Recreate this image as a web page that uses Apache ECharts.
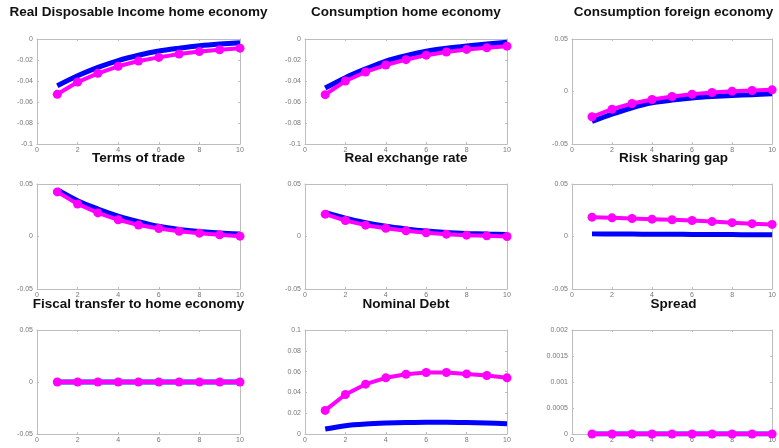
<!DOCTYPE html>
<html>
<head>
<meta charset="utf-8">
<script src="https://cdn.jsdelivr.net/npm/echarts@6/dist/echarts.min.js"></script>
<style>html,body{margin:0;padding:0;background:#fff}#c{width:779px;height:448px}</style>
</head>
<body>
<div id="c"></div>
<script>
var periods = [1,2,3,4,5,6,7,8,9,10];
var xTicks = [0,2,4,6,8,10];
var titles = ["Real Disposable Income home economy","Consumption home economy","Consumption foreign economy",
  "Terms of trade","Real exchange rate","Risk sharing gap",
  "Fiscal transfer to home economy","Nominal Debt","Spread"];
// blue (no markers) series
var rdiBlue   = [-0.0445,-0.035,-0.027,-0.0205,-0.0155,-0.0115,-0.0088,-0.0065,-0.0048,-0.0035];
var consHBlue = [-0.0467,-0.0368,-0.0285,-0.021,-0.0158,-0.0117,-0.0088,-0.0066,-0.0048,-0.0032];
var consFBlue = [-0.0286,-0.0216,-0.0155,-0.0108,-0.0082,-0.0062,-0.0048,-0.0038,-0.003,-0.0022];
var totBlue   = [0.0445,0.034,0.0262,0.0195,0.0142,0.0097,0.0068,0.0048,0.0034,0.0025];
var rerBlue   = [0.023,0.0175,0.0132,0.0097,0.0072,0.0052,0.0038,0.0029,0.0023,0.0019];
var rsgBlue   = [0.0025,0.0024,0.0023,0.0022,0.0021,0.002,0.0019,0.0018,0.0017,0.0016];
var fiscBlue  = [0,0,0,0,0,0,0,0,0,0];
var debtBlue  = [0.0048,0.008,0.0096,0.0105,0.011,0.0113,0.0113,0.011,0.0105,0.0099];
var sprBlue   = [0,0,0,0,0,0,0,0,0,0];
// magenta (marker) series
var rdiMag    = [-0.0527,-0.041,-0.0327,-0.026,-0.021,-0.0175,-0.0143,-0.012,-0.0102,-0.0087];
var consHMag  = [-0.053,-0.040,-0.0314,-0.0248,-0.0197,-0.0154,-0.0124,-0.0099,-0.0083,-0.0068];
var consFMag  = [-0.0241,-0.0168,-0.0114,-0.0076,-0.0048,-0.0025,-0.001,0.0003,0.001,0.0016];
var totMag    = [0.0425,0.031,0.0225,0.0159,0.011,0.0076,0.005,0.0032,0.0016,0.0003];
var rerMag    = [0.0213,0.0152,0.0108,0.0079,0.0054,0.0035,0.0022,0.0013,0.0006,0.0];
var rsgMag    = [0.0184,0.0178,0.0171,0.0165,0.0159,0.0152,0.0142,0.0132,0.0122,0.0115];
var fiscMag   = [0,0,0,0,0,0,0,0,0,0];
var debtMag   = [0.0227,0.038,0.0479,0.054,0.0575,0.0591,0.0591,0.0578,0.0562,0.054];
var sprMag    = [0,0,0,0,0,0,0,0,0,0];
// y axis tick ranges
var yMins = [-0.1,-0.1,-0.05,-0.05,-0.05,-0.05,-0.05,0,0];
var yMaxs = [0,0,0.05,0.05,0.05,0.05,0.05,0.1,0.002];
var ySteps = [0.02,0.02,0.05,0.05,0.05,0.05,0.05,0.02,0.0005];

var blues = [rdiBlue,consHBlue,consFBlue,totBlue,rerBlue,rsgBlue,fiscBlue,debtBlue,sprBlue];
var mags  = [rdiMag,consHMag,consFMag,totMag,rerMag,rsgMag,fiscMag,debtMag,sprMag];

var colLeft = [37,305,572], colW = [203,202,203];
var rowTop = [39,184,330], rowH = [105,105,104];
var titleY = [12,158,304];

var grids=[], xAxes=[], yAxes=[], series=[], graphics=[];
var frame = '#bdbdbd';
function fmt(v){ return String(Math.round(v*1e6)/1e6); }
for (var i=0;i<9;i++){
  var r=Math.floor(i/3), c=i%3;
  grids.push({left:colLeft[c], top:rowTop[r], width:colW[c], height:rowH[r]});
  graphics.push({type:'text', x:colLeft[c]+colW[c]/2, y:titleY[r], z:100,
    style:{text:titles[i], x:0, y:0, align:'center', verticalAlign:'middle',
      font:'bold 13.5px "Liberation Sans", Arial, sans-serif', fill:'#111'}});
  var common = {axisLine:{show:true,onZero:false,lineStyle:{color:frame,width:1}}, splitLine:{show:false},
    axisTick:{show:true,inside:true,length:2,lineStyle:{color:frame}}};
  xAxes.push(Object.assign({type:'value', gridIndex:i, min:0, max:10, interval:2, position:'bottom',
    axisLabel:{fontSize:7, color:'#777', margin:3, fontFamily:'Liberation Sans, Arial'}}, common));
  xAxes.push(Object.assign({type:'value', gridIndex:i, min:0, max:10, interval:2, position:'top',
    axisLabel:{show:false}}, common));
  yAxes.push(Object.assign({type:'value', gridIndex:i, min:yMins[i], max:yMaxs[i], interval:ySteps[i], position:'left',
    axisLabel:{fontSize:7, color:'#777', margin:4, fontFamily:'Liberation Sans, Arial', formatter:fmt}}, common));
  yAxes.push(Object.assign({type:'value', gridIndex:i, min:yMins[i], max:yMaxs[i], interval:ySteps[i], position:'right',
    axisLabel:{show:false}}, common));
  series.push({type:'line', xAxisIndex:2*i, yAxisIndex:2*i, showSymbol:false, symbol:'none', smooth:0.3,
    data:periods.map(function(p,k){return [p,blues[i][k]];}),
    lineStyle:{color:'#0000ff', width:5}, itemStyle:{color:'#0000ff'}, animation:false, silent:true});
  series.push({type:'line', xAxisIndex:2*i, yAxisIndex:2*i, symbol:'circle', symbolSize:9, showSymbol:true,
    data:periods.map(function(p,k){return [p,mags[i][k]];}),
    lineStyle:{color:'#ff00ff', width:4}, itemStyle:{color:'#ff00ff'}, animation:false, silent:true});
}
var chart = echarts.init(document.getElementById('c'), null, {renderer:'canvas'});
chart.setOption({animation:false, backgroundColor:'#fff', graphic:graphics, grid:grids, xAxis:xAxes, yAxis:yAxes, series:series});
</script>
</body>
</html>
